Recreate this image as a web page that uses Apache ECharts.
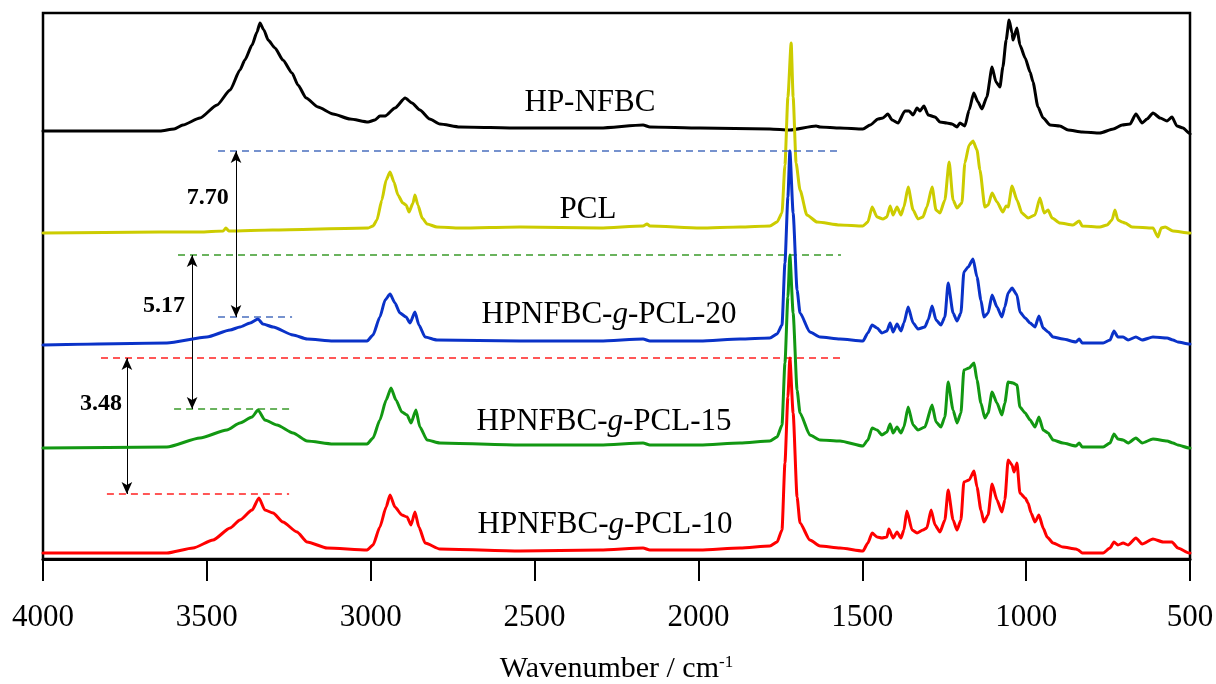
<!DOCTYPE html>
<html>
<head>
<meta charset="utf-8">
<script src="https://cdn.jsdelivr.net/npm/echarts@6/dist/echarts.min.js"></script>
<style>
  html, body { margin: 0; padding: 0; background: #fff; }
  #chart { width: 1216px; height: 684px; }
</style>
</head>
<body>
<div id="chart"></div>
<script>
// ---- x-axis ticks (wavenumber, cm-1) ----
const xTicks = [4000, 3500, 3000, 2500, 2000, 1500, 1000, 500];

// ---- spectra: [wavenumber, stacked absorbance (a.u.)] ----
const hpNfbc = [
  [4000,428],[3643,428],[3600,430],[3573,434],[3521,441],[3469,454],[3429,469],[3399,489],[3384,499],[3362,514],
  [3347,527],[3338,536],[3326,529],[3313,519],[3292,511],[3268,499],[3240,486],[3222,474],[3197,461],
  [3161,452],[3115,445],[3063,440],[3008,437],[2987,439],[2972,443],[2956,443],[2926,451],[2895,461],
  [2874,456],[2850,449],[2820,440],[2789,435],[2728,432],[2544,431],[2300,431],[2169,434],[2148,432],[1995,431],
  [1782,430],[1721,429],[1641,433],[1629,432],[1568,431],[1498,430],[1476,434],[1452,440],[1437,441],
  [1422,445],[1409,439],[1391,436],[1370,448],[1357,448],[1345,444],[1333,451],[1324,448],[1312,453],
  [1299,444],[1278,442],[1263,437],[1242,436],[1226,435],[1211,432],[1202,436],[1187,433],[1174,449],
  [1160,466],[1147,457],[1135,450],[1120,462],[1104,492],[1092,477],[1080,472],[1071,492],[1061,519],
  [1052,539],[1043,526],[1040,519],[1028,531],[1019,514],[1003,501],[988,487],[979,477],[964,452],
  [948,441],[927,434],[897,433],[872,429],[829,427],[775,426],[734,430],[707,434],[683,435],[665,445],
  [646,436],[631,440],[613,446],[591,441],[570,438],[555,442],[540,433],[521,431],[503,426],[500,425]
];
const pcl = [
  [4000,326],[3643,327],[3521,327],[3450,328],[3442,331],[3433,328],[3300,329],[3008,331],[2993,333],
  [2981,339],[2966,359],[2953,379],[2941,387],[2929,377],[2917,364],[2902,356],[2892,354],[2883,347],
  [2871,356],[2865,364],[2856,354],[2843,341],[2828,335],[2798,332],[2728,331],[2544,332],[2300,331],
  [2169,333],[2157,335],[2148,333],[1995,331],[1873,332],[1782,333],[1760,337],[1745,346],[1736,394],
  [1727,462],[1717,516],[1711,462],[1702,396],[1690,369],[1669,344],[1638,337],[1568,334],[1498,333],
  [1483,337],[1470,352],[1455,342],[1437,340],[1425,342],[1415,353],[1406,344],[1394,352],[1382,344],
  [1373,352],[1360,372],[1345,349],[1330,340],[1315,342],[1303,352],[1287,372],[1275,349],[1263,346],
  [1248,359],[1235,397],[1223,359],[1211,351],[1196,356],[1187,396],[1174,414],[1162,418],[1150,409],
  [1141,389],[1126,352],[1116,354],[1104,366],[1089,357],[1071,347],[1061,353],[1055,352],[1043,373],
  [1028,359],[1013,346],[994,341],[973,344],[958,361],[945,346],[933,349],[921,341],[897,336],[857,334],
  [838,338],[829,333],[775,332],[753,334],[738,339],[729,349],[720,339],[707,337],[698,336],[677,332],
  [613,331],[598,322],[588,331],[576,332],[552,328],[503,326],[500,326]
];
const pcl20 = [
  [4000,214],[3622,216],[3500,222],[3429,229],[3399,232],[3368,236],[3344,240],[3329,235],[3298,232],
  [3237,224],[3194,220],[3115,218],[3033,218],[3011,218],[2993,224],[2972,242],[2956,259],[2941,265],
  [2926,256],[2911,246],[2892,242],[2880,236],[2865,247],[2853,234],[2834,222],[2798,219],[2544,218],
  [2300,218],[2169,220],[2148,218],[1995,218],[1873,220],[1782,221],[1760,225],[1745,234],[1736,296],
  [1727,362],[1721,408],[1711,346],[1699,269],[1690,246],[1660,227],[1629,222],[1568,220],[1498,218],
  [1483,226],[1470,234],[1455,231],[1440,226],[1425,228],[1415,236],[1406,227],[1394,235],[1382,228],
  [1373,236],[1360,252],[1345,236],[1330,230],[1309,232],[1299,239],[1287,253],[1275,239],[1260,234],
  [1248,242],[1238,276],[1223,246],[1211,238],[1199,246],[1190,287],[1177,292],[1162,300],[1150,282],
  [1138,259],[1129,242],[1116,246],[1104,264],[1089,252],[1074,242],[1065,252],[1055,266],[1043,271],
  [1028,264],[1019,247],[1003,241],[988,236],[973,232],[961,243],[948,231],[933,227],[918,222],[888,220],
  [848,217],[838,220],[829,216],[765,216],[744,219],[732,228],[720,222],[704,222],[689,219],[665,222],
  [646,219],[613,222],[570,221],[552,219],[537,217],[503,215],[500,215]
];
const pcl15 = [
  [4000,111],[3622,112],[3521,121],[3439,129],[3399,136],[3362,142],[3344,149],[3323,139],[3286,134],
  [3237,126],[3194,118],[3115,115],[3033,115],[3011,115],[2993,121],[2972,139],[2953,159],[2938,171],
  [2923,159],[2905,147],[2889,144],[2877,136],[2862,149],[2850,132],[2828,119],[2789,116],[2544,114],
  [2300,114],[2169,116],[2148,114],[1995,114],[1873,116],[1782,118],[1760,122],[1745,134],[1736,196],
  [1727,262],[1721,304],[1711,246],[1699,169],[1690,146],[1660,124],[1629,119],[1568,118],[1498,113],
  [1483,119],[1470,131],[1455,129],[1440,124],[1425,127],[1415,135],[1406,126],[1394,132],[1382,126],
  [1373,132],[1360,152],[1345,134],[1330,129],[1309,132],[1287,154],[1275,137],[1260,132],[1248,142],
  [1238,177],[1223,149],[1211,136],[1199,146],[1190,189],[1174,191],[1159,196],[1150,179],[1138,156],
  [1126,141],[1116,146],[1104,167],[1089,156],[1074,144],[1065,156],[1055,177],[1040,176],[1028,174],
  [1019,152],[1003,146],[988,139],[973,132],[961,142],[948,129],[933,126],[918,119],[888,116],[848,113],
  [838,116],[829,112],[765,112],[744,116],[732,125],[720,120],[704,119],[689,116],[665,121],[646,116],
  [613,120],[570,118],[552,116],[537,114],[503,111],[500,111]
];
const pcl10 = [
  [4000,6],[3622,6],[3542,11],[3481,19],[3429,31],[3399,39],[3362,49],[3341,61],[3323,49],[3298,46],
  [3268,37],[3225,27],[3194,17],[3133,11],[3011,9],[2993,14],[2972,32],[2953,52],[2941,64],[2926,52],
  [2905,44],[2889,42],[2877,34],[2865,47],[2853,32],[2834,16],[2789,10],[2544,8],[2300,9],[2169,11],
  [2148,9],[1995,9],[1873,11],[1782,13],[1760,17],[1745,29],[1736,96],[1727,162],[1721,201],[1711,146],
  [1699,62],[1690,36],[1660,19],[1629,13],[1568,11],[1498,8],[1483,16],[1470,26],[1455,22],[1440,21],
  [1425,22],[1419,30],[1406,21],[1394,27],[1382,21],[1373,29],[1364,48],[1348,29],[1333,26],[1315,29],
  [1303,31],[1290,49],[1278,34],[1263,27],[1248,39],[1238,69],[1223,39],[1211,29],[1199,39],[1190,77],
  [1174,79],[1159,88],[1150,72],[1138,49],[1129,37],[1116,44],[1104,75],[1089,59],[1074,47],[1065,59],
  [1055,99],[1043,94],[1037,87],[1028,96],[1019,66],[1003,61],[994,56],[985,46],[973,37],[961,44],
  [948,31],[936,22],[918,16],[888,12],[848,10],[841,9],[829,6],[765,6],[744,11],[732,17],[720,14],
  [704,16],[689,14],[665,21],[646,15],[613,20],[582,17],[555,17],[537,11],[503,6],[500,6]
];

// ---- spectrum names ----
const names = ['HP-NFBC', 'PCL', 'HPNFBC-g-PCL-20', 'HPNFBC-g-PCL-15', 'HPNFBC-g-PCL-10'];
// label anchor of each name [wavenumber, a.u.]
const nameAnchors = [[2331,456],[2337,349],[2273,244],[2288,137],[2285,34]];

// ---- intensity-difference annotations ----
const gapValues = ['7.70', '5.17', '3.48'];
const gapTop = [408, 304, 201];          // C=O peak level (a.u.)
const gapBottom = [242, 150, 65];        // O-H peak level (a.u.)
const gapArrowX = [3411, 3545, 3744];    // arrow position (cm-1)
const gapLongFrom = [3466, 3588, 3823];  // long dashed line start (cm-1)
const gapLongTo = [1568, 1565, 1565];
const gapShortFrom = [3466, 3600, 3805];
const gapShortTo = [3240, 3249, 3249];
const gapLabelAt = [[3497,361],[3631,253],[3823,155]];

const lineColors = ['#000000', '#cccc00', '#0a32c8', '#129812', '#ff0000'];
const dashColors = ['#4a6fbf', '#3a9a2a', '#ff2020'];

const FONT = "'Liberation Serif', 'Times New Roman', serif";
const chart = echarts.init(document.getElementById('chart'), null, { renderer: 'canvas' });

const spectra = [hpNfbc, pcl, pcl20, pcl15, pcl10];
const series = [];
spectra.forEach((d, i) => {
  series.push({
    type: 'line', name: names[i], data: d, showSymbol: false, smooth: 0.2, smoothMonotone: 'x',
    lineStyle: { width: 3, color: lineColors[i], join: 'round', cap: 'round' }, itemStyle: { color: lineColors[i] },
    z: 3 + i, silent: true
  });
});

// dashed reference lines + arrows
gapValues.forEach((g, i) => {
  series.push({
    type: 'line', data: [], silent: true,
    markLine: {
      silent: true, animation: false, symbol: ['none', 'none'],
      label: { show: false },
      lineStyle: { type: [7, 5], width: 1.6, color: dashColors[i] },
      data: [
        [{ coord: [gapLongFrom[i], gapTop[i]] }, { coord: [gapLongTo[i], gapTop[i]] }],
        [{ coord: [gapShortFrom[i], gapBottom[i]] }, { coord: [gapShortTo[i], gapBottom[i]] }]
      ]
    }
  });
  series.push({
    type: 'line', data: [], silent: true,
    markLine: {
      silent: true, animation: false, symbol: ['arrow', 'arrow'], symbolSize: [8, 12],
      label: { show: false },
      lineStyle: { type: 'solid', width: 1, color: '#000' },
      data: [[{ coord: [gapArrowX[i], gapTop[i]] }, { coord: [gapArrowX[i], gapBottom[i]] }]]
    }
  });
});

const plainLabel = {
  show: true, position: 'inside', color: '#000', fontFamily: FONT,
  textBorderWidth: 0, textBorderColor: 'transparent', textShadowBlur: 0, opacity: 1
};
// spectrum names
series.push({
  type: 'scatter', symbolSize: 0, silent: true, z: 20, itemStyle: { color: '#000', opacity: 1 },
  data: names.map((n, i) => ({ value: nameAnchors[i], name: n })),
  label: Object.assign({}, plainLabel, {
    fontSize: 31,
    formatter: p => p.name.replace('-g-', '-{i|g}-'),
    rich: { i: { fontStyle: 'italic', fontFamily: FONT, fontSize: 31, color: '#000', textBorderWidth: 0 } }
  })
});
// gap values
series.push({
  type: 'scatter', symbolSize: 0, silent: true, z: 20, itemStyle: { color: '#000', opacity: 1 },
  data: gapValues.map((g, i) => ({ value: gapLabelAt[i], name: g })),
  label: Object.assign({}, plainLabel, { fontSize: 24, fontWeight: 'bold', formatter: p => p.name })
});

chart.setOption({
  animation: false,
  backgroundColor: '#fff',
  grid: { left: 43, right: 26, top: 13, bottom: 125, outerBoundsMode: 'none', containLabel: false,
    show: true, borderColor: '#000', borderWidth: 2.5, backgroundColor: 'transparent' },
  xAxis: {
    type: 'value', inverse: true, min: xTicks[xTicks.length - 1], max: xTicks[0], interval: 500,
    axisLine: { show: true, onZero: false, lineStyle: { color: '#000', width: 3 } },
    axisTick: { show: true, inside: false, length: 22, lineStyle: { color: '#000', width: 2 } },
    splitLine: { show: false },
    axisLabel: { color: '#000', fontFamily: FONT, fontSize: 31, margin: 43, formatter: v => String(v) },
    name: 'Wavenumber / cm{sup|-1}', nameLocation: 'middle', nameGap: 95,
    nameTextStyle: { color: '#000', fontFamily: FONT, fontSize: 30,
      rich: { sup: { fontFamily: FONT, fontSize: 17, verticalAlign: 'top', padding: [0, 0, 14, 0], color: '#000' } } }
  },
  yAxis: { type: 'value', min: 0, max: 546, show: false },
  series: series
});
</script>
</body>
</html>
